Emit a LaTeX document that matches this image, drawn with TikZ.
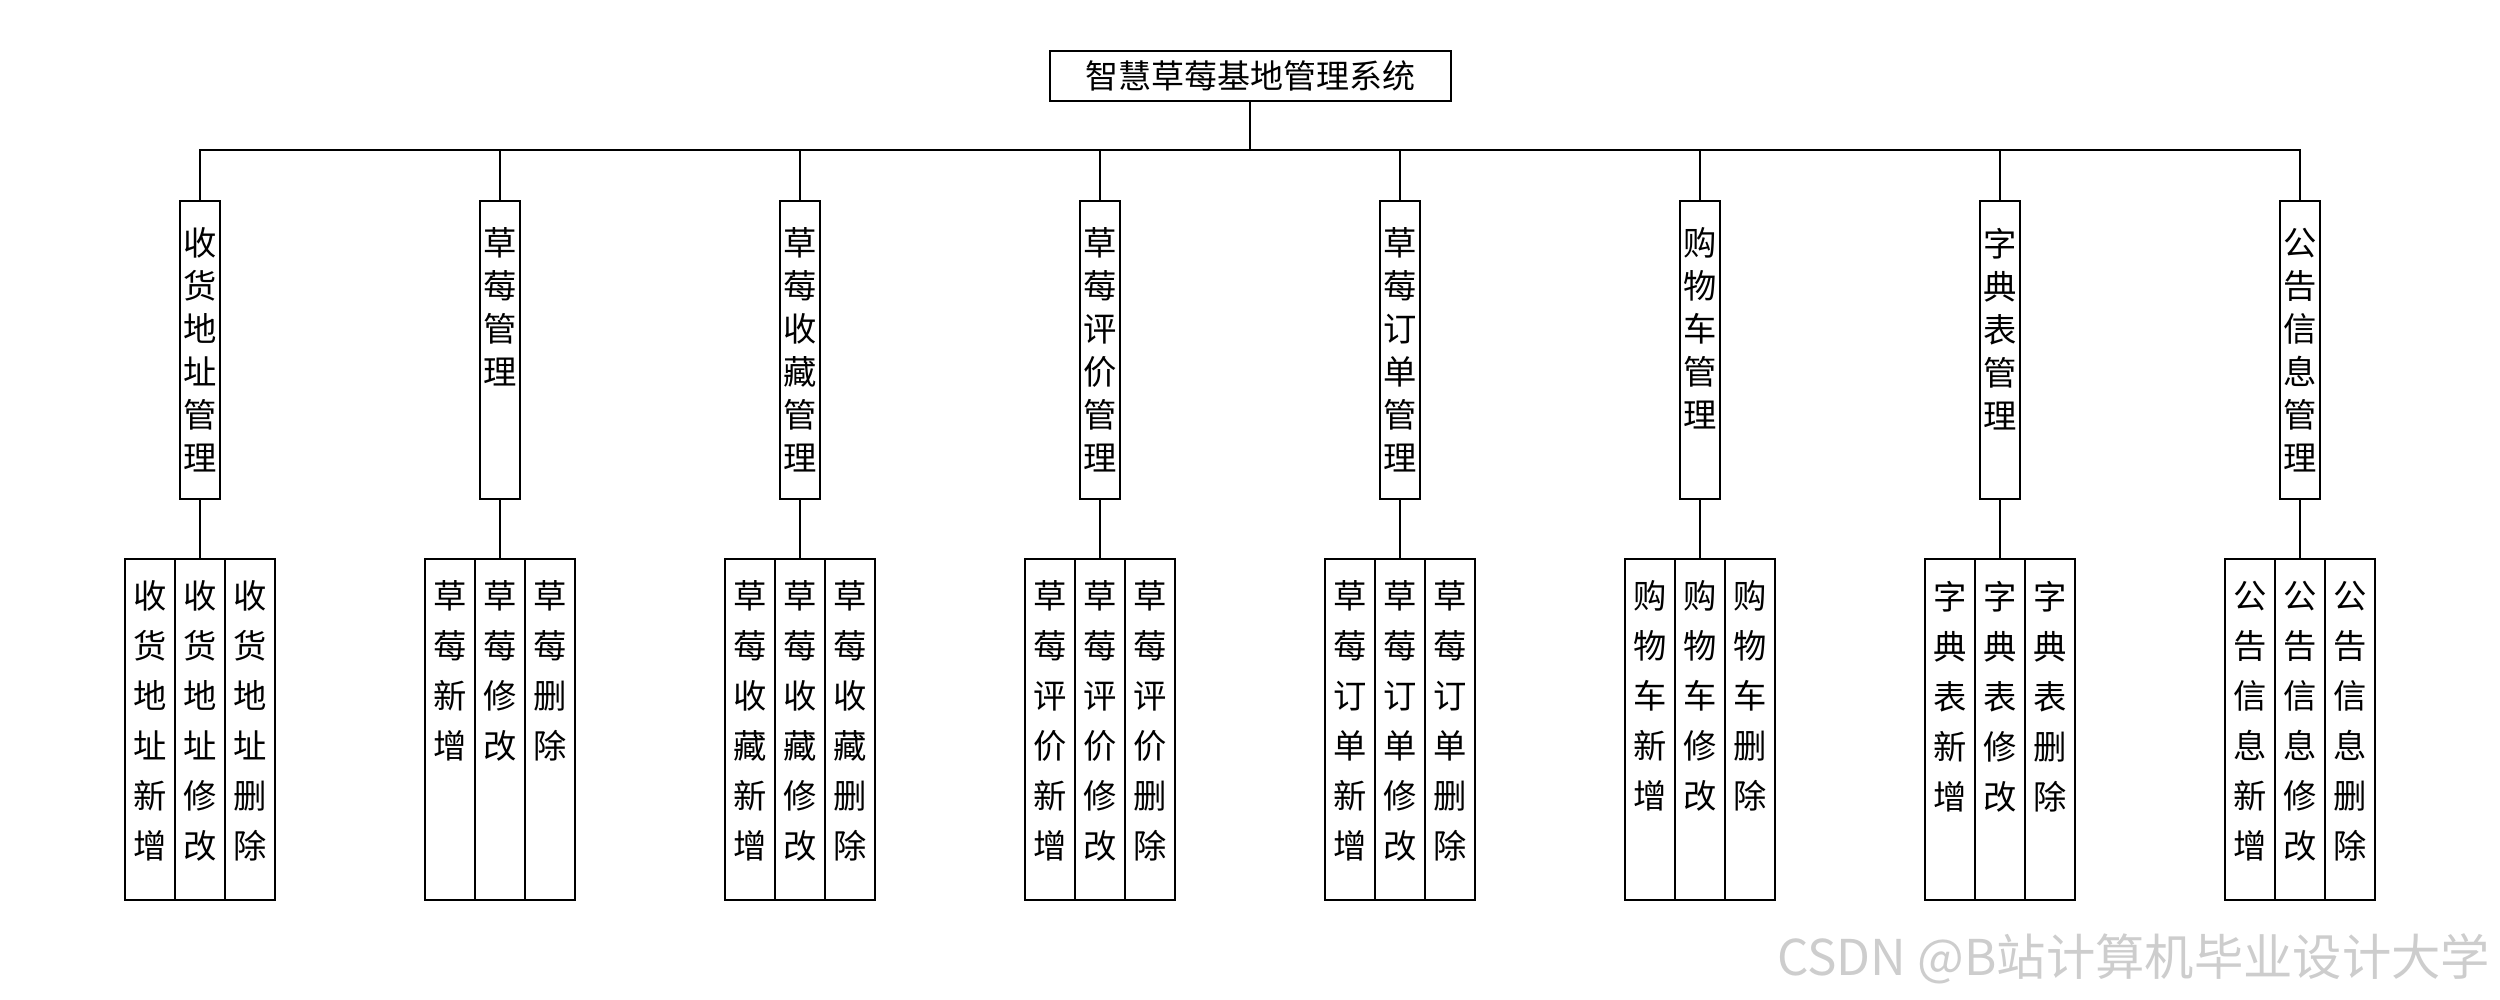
\documentclass[tikz,border=0pt]{standalone}
\usepackage{fontspec}
\newfontfamily\cjk{Noto Sans CJK SC}
\definecolor{wmgray}{RGB}{205,205,205}
% stacked vertical labels, text starting from the top of the box
\newcommand{\modtext}[1]{\parbox[c][89.4pt][t]{12pt}{\centering\vspace*{8.1pt}#1}}
\newcommand{\funtext}[1]{\parbox[c][102.3pt][t]{15pt}{\centering\vspace*{6.6pt}#1}}
\tikzset{every picture/.style={line width=0.6pt}}
\tikzset{
	topbox/.style={draw, anchor=north, minimum width=120.3pt, minimum height=15pt, inner sep=0pt, font=\cjk\fontsize{9.9pt}{12pt}\selectfont},
	modbox/.style={draw, anchor=north, minimum width=12pt, inner sep=0pt, font=\cjk\fontsize{10pt}{12.9pt}\selectfont},
	funbox/.style={draw, anchor=north, minimum width=15pt, inner sep=0pt, font=\cjk\fontsize{10pt}{15pt}\selectfont}}

\begin{document}
\begin{tikzpicture}[x=0.3pt,y=0.3pt,yscale=-1]
	\useasboundingbox (0,0) rectangle (2500,1000);
	
	% Title
	\node [topbox] (sys) at (1250,50) {智慧草莓基地管理系统};
	\coordinate (bus) at (1250,150);
	
	% Modules
	\node [modbox] (m1) at (200,200) {\modtext{收\\货\\地\\址\\管\\理}};
	\node [modbox] (m2) at (500,200) {\modtext{草\\莓\\管\\理}};
	\node [modbox] (m3) at (800,200) {\modtext{草\\莓\\收\\藏\\管\\理}};
	\node [modbox] (m4) at (1100,200) {\modtext{草\\莓\\评\\价\\管\\理}};
	\node [modbox] (m5) at (1400,200) {\modtext{草\\莓\\订\\单\\管\\理}};
	\node [modbox] (m6) at (1700,200) {\modtext{购\\物\\车\\管\\理}};
	\node [modbox] (m7) at (2000,200) {\modtext{字\\典\\表\\管\\理}};
	\node [modbox] (m8) at (2300,200) {\modtext{公\\告\\信\\息\\管\\理}};
	
	% Functions
	\node [funbox] (f1a) at (150,558) {\funtext{收\\货\\地\\址\\新\\增}};
	\node [funbox] (f1b) at (200,558) {\funtext{收\\货\\地\\址\\修\\改}};
	\node [funbox] (f1c) at (250,558) {\funtext{收\\货\\地\\址\\删\\除}};
	
	\node [funbox] (f2a) at (450,558) {\funtext{草\\莓\\新\\增}};
	\node [funbox] (f2b) at (500,558) {\funtext{草\\莓\\修\\改}};
	\node [funbox] (f2c) at (550,558) {\funtext{草\\莓\\删\\除}};
	
	\node [funbox] (f3a) at (750,558) {\funtext{草\\莓\\收\\藏\\新\\增}};
	\node [funbox] (f3b) at (800,558) {\funtext{草\\莓\\收\\藏\\修\\改}};
	\node [funbox] (f3c) at (850,558) {\funtext{草\\莓\\收\\藏\\删\\除}};
	
	\node [funbox] (f4a) at (1050,558) {\funtext{草\\莓\\评\\价\\新\\增}};
	\node [funbox] (f4b) at (1100,558) {\funtext{草\\莓\\评\\价\\修\\改}};
	\node [funbox] (f4c) at (1150,558) {\funtext{草\\莓\\评\\价\\删\\除}};
	
	\node [funbox] (f5a) at (1350,558) {\funtext{草\\莓\\订\\单\\新\\增}};
	\node [funbox] (f5b) at (1400,558) {\funtext{草\\莓\\订\\单\\修\\改}};
	\node [funbox] (f5c) at (1450,558) {\funtext{草\\莓\\订\\单\\删\\除}};
	
	\node [funbox] (f6a) at (1650,558) {\funtext{购\\物\\车\\新\\增}};
	\node [funbox] (f6b) at (1700,558) {\funtext{购\\物\\车\\修\\改}};
	\node [funbox] (f6c) at (1750,558) {\funtext{购\\物\\车\\删\\除}};
	
	\node [funbox] (f7a) at (1950,558) {\funtext{字\\典\\表\\新\\增}};
	\node [funbox] (f7b) at (2000,558) {\funtext{字\\典\\表\\修\\改}};
	\node [funbox] (f7c) at (2050,558) {\funtext{字\\典\\表\\删\\除}};
	
	\node [funbox] (f8a) at (2250,558) {\funtext{公\\告\\信\\息\\新\\增}};
	\node [funbox] (f8b) at (2300,558) {\funtext{公\\告\\信\\息\\修\\改}};
	\node [funbox] (f8c) at (2350,558) {\funtext{公\\告\\信\\息\\删\\除}};
	
	% Bus lines
	\draw (sys.south) -- (bus);
	\draw (m1.north) |- (bus) -| (m8.north);
	\draw (m2.north) -- (m2.north |- bus);
	\draw (m3.north) -- (m3.north |- bus);
	\draw (m4.north) -- (m4.north |- bus);
	\draw (m5.north) -- (m5.north |- bus);
	\draw (m6.north) -- (m6.north |- bus);
	\draw (m7.north) -- (m7.north |- bus);
	
	% Module to functions
	\draw (m1.south) -- (f1b.north);
	\draw (m2.south) -- (f2b.north);
	\draw (m3.south) -- (f3b.north);
	\draw (m4.south) -- (f4b.north);
	\draw (m5.south) -- (f5b.north);
	\draw (m6.south) -- (f6b.north);
	\draw (m7.south) -- (f7b.north);
	\draw (m8.south) -- (f8b.north);
	
	% Watermark
	\node [anchor=base east, inner sep=0pt, text=wmgray, font=\cjk\fontsize{14.8pt}{16pt}\selectfont] (wm) at (2491,975) {CSDN @B站计算机毕业设计大学};
	
\end{tikzpicture}
\end{document}
